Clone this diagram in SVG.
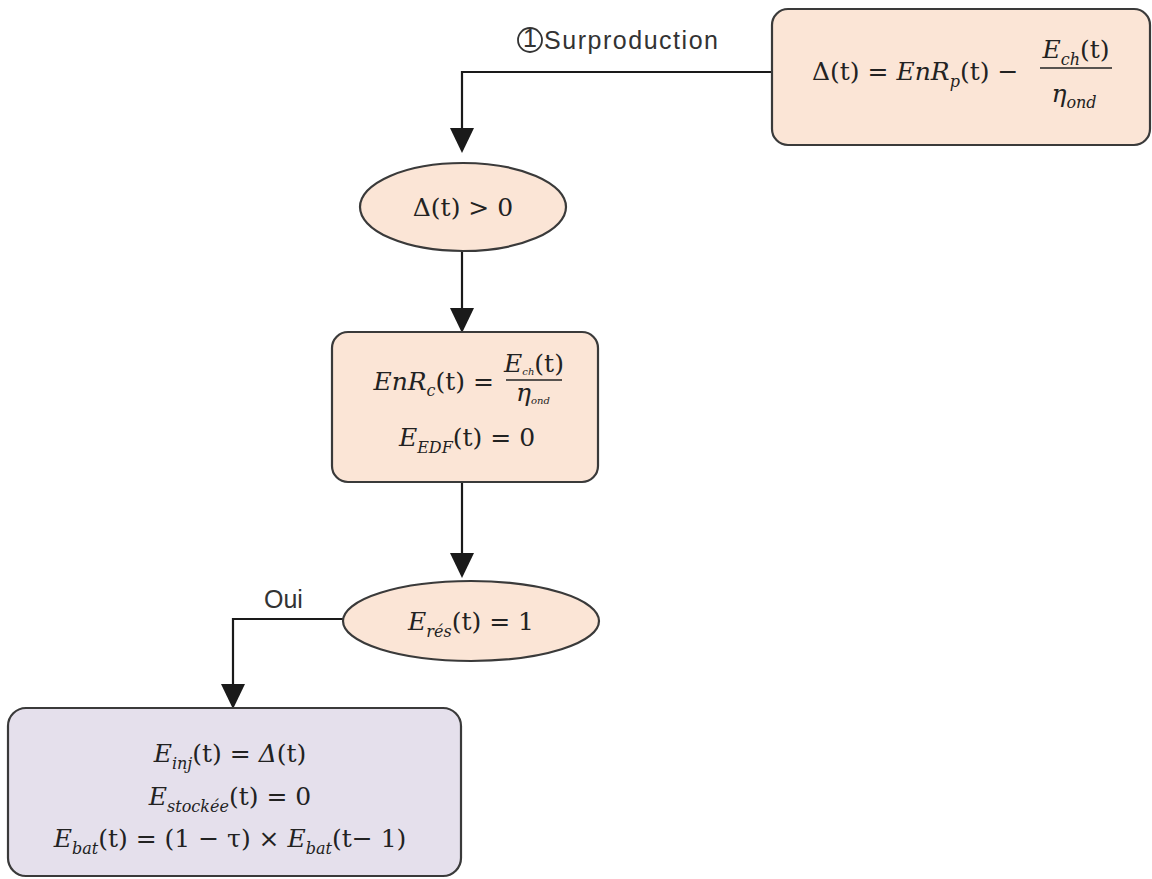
<svg xmlns="http://www.w3.org/2000/svg" width="1152" height="879" viewBox="0 0 1152 879">
<defs>
<style>
.peach{fill:#FBE5D6;stroke:#3a3a3a;stroke-width:2.2}
.lav{fill:#E5E0EC;stroke:#3a3a3a;stroke-width:2.2}
.conn{fill:none;stroke:#1a1a1a;stroke-width:2.2}
.ah{fill:#1a1a1a}
.m{font-family:"DejaVu Serif","Liberation Serif",serif;font-size:25px;fill:#222}
.i{font-style:italic}
.s{font-size:16px;font-style:italic}
.lbl{font-family:"Liberation Sans","DejaVu Sans",sans-serif;font-size:25px;fill:#333}
</style>
</defs>
<g id="connectors">
<path class="conn" d="M772,72 H462 V140"/>
<path class="ah" d="M450,128 L474,128 L462,153 z"/>
<path class="conn" d="M462,251 V310"/>
<path class="ah" d="M450,308 L474,308 L462,333 z"/>
<path class="conn" d="M462,482 V555"/>
<path class="ah" d="M450,553 L474,553 L462,578 z"/>
<path class="conn" d="M343,619 H233 V686"/>
<path class="ah" d="M221,684 L245,684 L233,709 z"/>
</g>
<g id="label-surproduction">
<circle cx="530" cy="40" r="12" fill="none" stroke="#333" stroke-width="1.8"/>
<text class="lbl" x="530" y="47" text-anchor="middle" font-size="18">1</text>
<text class="lbl" x="544" y="49" textLength="174">Surproduction</text>
</g>
<g id="label-oui">
<text class="lbl" x="264" y="608">Oui</text>
</g>
<g id="node-delta-def">
<rect class="peach" x="772" y="9" width="378" height="136" rx="16"/>
<text class="m" x="812" y="80">Δ(t) = <tspan class="i">EnR</tspan><tspan class="s" dy="7">p</tspan><tspan dy="-7">(t) −</tspan></text>
<text class="m" x="1076" y="58" text-anchor="middle"><tspan class="i">E</tspan><tspan class="s" dy="7">ch</tspan><tspan dy="-7">(t)</tspan></text>
<line x1="1040" y1="68" x2="1112" y2="68" stroke="#222" stroke-width="1.6"/>
<text class="m" x="1074" y="102" text-anchor="middle"><tspan class="i">η</tspan><tspan class="s" dy="6">ond</tspan></text>
</g>
<g id="node-delta-pos">
<ellipse class="peach" cx="463" cy="207" rx="103" ry="44"/>
<text class="m" x="463" y="216" text-anchor="middle">Δ(t) &gt; 0</text>
</g>
<g id="node-enrc">
<rect class="peach" x="332" y="332" width="266" height="150" rx="16"/>
<text class="m" x="494" y="390" text-anchor="end"><tspan class="i">EnR</tspan><tspan class="s" dy="6">c</tspan><tspan dy="-6">(t) =</tspan></text>
<text class="m" x="534" y="372" text-anchor="middle" font-size="16"><tspan class="i">E</tspan><tspan font-size="10" font-style="italic" dy="3">ch</tspan><tspan dy="-3">(t)</tspan></text>
<line x1="506" y1="380" x2="562" y2="380" stroke="#222" stroke-width="1.4"/>
<text class="m" x="533" y="401" text-anchor="middle" font-size="16"><tspan class="i">η</tspan><tspan font-size="10" font-style="italic" dy="3">ond</tspan></text>
<text class="m" x="467" y="446" text-anchor="middle"><tspan class="i">E</tspan><tspan class="s" dy="7">EDF</tspan><tspan dy="-7">(t) = 0</tspan></text>
</g>
<g id="node-eres">
<ellipse class="peach" cx="471" cy="621" rx="128" ry="40"/>
<text class="m" x="471" y="630" text-anchor="middle"><tspan class="i">E</tspan><tspan class="s" dy="7">rés</tspan><tspan dy="-7">(t) = 1</tspan></text>
</g>
<g id="node-result">
<rect class="lav" x="8" y="708" width="453" height="168" rx="18"/>
<text class="m" x="230" y="762" text-anchor="middle" font-size="27"><tspan class="i">E</tspan><tspan class="s" dy="7">inj</tspan><tspan dy="-7">(t) = </tspan><tspan class="i">Δ</tspan><tspan>(t)</tspan></text>
<text class="m" x="230" y="805" text-anchor="middle" font-size="27"><tspan class="i">E</tspan><tspan class="s" dy="7">stockée</tspan><tspan dy="-7">(t) =  0</tspan></text>
<text class="m" x="230" y="847" text-anchor="middle" font-size="27"><tspan class="i">E</tspan><tspan class="s" dy="7">bat</tspan><tspan dy="-7">(t) = (1 − τ) × </tspan><tspan class="i">E</tspan><tspan class="s" dy="7">bat</tspan><tspan dy="-7">(t− 1)</tspan></text>
</g>
</svg>
